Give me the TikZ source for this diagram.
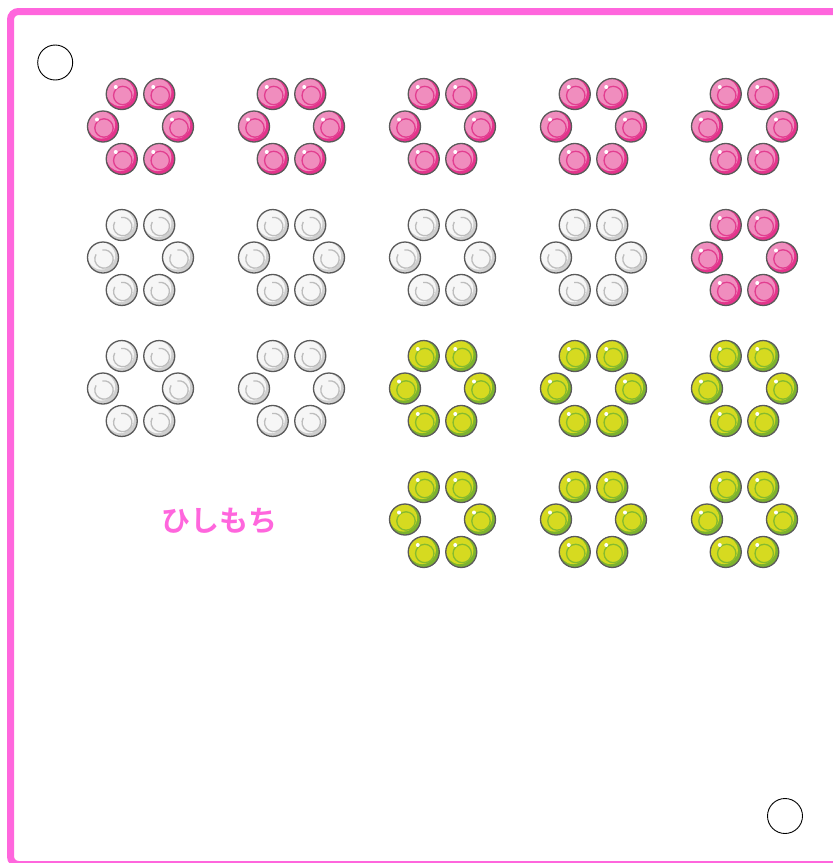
\documentclass[tikz,border=0pt]{standalone}
\usepackage{fontspec}
\newfontfamily\cjk{Noto Sans CJK JP Bold}
\definecolor{framepink}{HTML}{FF66DD}
\definecolor{pinklight}{HTML}{F08DBE}
\definecolor{pinkdark}{HTML}{E4348C}
\definecolor{pinkring}{HTML}{E23E90}
\definecolor{greenlight}{HTML}{D6DA20}
\definecolor{greendark}{HTML}{7CB32E}
\definecolor{greenring}{HTML}{86BB2E}
\definecolor{whitelight}{HTML}{F6F6F6}
\definecolor{whitedark}{HTML}{CFCFCF}
\definecolor{whitering}{HTML}{BDBDBD}
\definecolor{ballline}{HTML}{5A5A5A}
\tikzset{
  outl/.style={draw=ballline, line width=1.3pt},
  holecircle/.style={draw=black, line width=0.9pt},
  frameline/.style={draw=framepink, line width=7pt, rounded corners=8pt},
  title/.style={text=framepink, font=\cjk\fontsize{29}{32}\selectfont}
}
\newcommand\mochiball[3]{% position, colour prefix, gapped ring (1/0)
  \begin{scope}[shift={#1}]
    \fill[#2dark] (0,0) circle (15.5pt);
    \fill[#2light] (-1.6pt,1.6pt) circle (13.7pt);
    \ifnum#3=1
      \draw[#2ring, line width=1.3pt] (1pt,-1.5pt) ++(150:9.2pt) arc[start angle=150, end angle=460, radius=9.2pt];
    \else
      \draw[#2ring, line width=1.3pt] (1pt,-1.5pt) circle (9.2pt);
      \fill[white] (-6pt,7pt) circle (2pt);
    \fi
    \draw[outl] (0,0) circle (15.5pt);
  \end{scope}}
\newcommand\mochiflower[3]{%
  \begin{scope}[shift={#1}]
    \foreach \a in {0,60,...,300} {\mochiball{(\a:37.5pt)}{#2}{#3}}
  \end{scope}}
\begin{document}
\begin{tikzpicture}[x=1pt,y=-1pt]
  \useasboundingbox (0,0) rectangle (833,863);
  \fill[white] (0,0) rectangle (833,863);
  \begin{scope}
    \clip (0,0) rectangle (833,863);
    \draw[frameline] (10.5,11.5) rectangle (845,864.5);
  \end{scope}
  \draw[holecircle] (55.2,62.5) circle (17.5pt);
  \draw[holecircle] (785,816) circle (17.5pt);
  % row 1
  \mochiflower{(140.5,126.5)}{pink}{0}
  \mochiflower{(291.5,126.5)}{pink}{0}
  \mochiflower{(442.5,126.5)}{pink}{0}
  \mochiflower{(593.5,126.5)}{pink}{0}
  \mochiflower{(744.5,126.5)}{pink}{0}
  % row 2
  \mochiflower{(140.5,257.5)}{white}{1}
  \mochiflower{(291.5,257.5)}{white}{1}
  \mochiflower{(442.5,257.5)}{white}{1}
  \mochiflower{(593.5,257.5)}{white}{1}
  \mochiflower{(744.5,257.5)}{pink}{0}
  % row 3
  \mochiflower{(140.5,388.5)}{white}{1}
  \mochiflower{(291.5,388.5)}{white}{1}
  \mochiflower{(442.5,388.5)}{green}{0}
  \mochiflower{(593.5,388.5)}{green}{0}
  \mochiflower{(744.5,388.5)}{green}{0}
  % row 4
  \mochiflower{(442.5,519.5)}{green}{0}
  \mochiflower{(593.5,519.5)}{green}{0}
  \mochiflower{(744.5,519.5)}{green}{0}
  \node[title] (label) at (219,521) {ひしもち};
\end{tikzpicture}
\end{document}
